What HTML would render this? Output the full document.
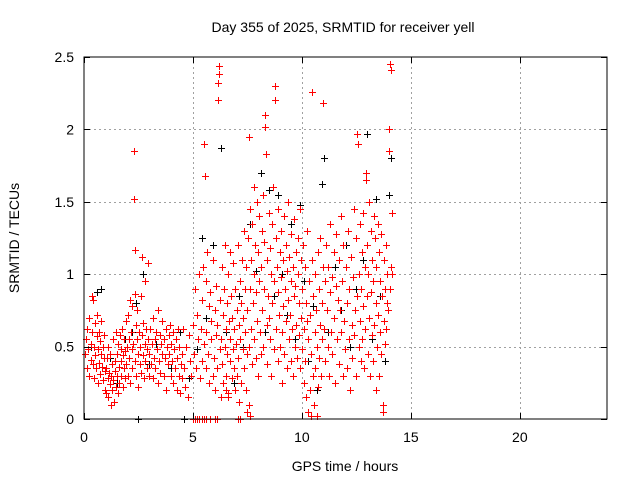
<!DOCTYPE html>
<html><head><meta charset="utf-8"><style>
html,body{margin:0;padding:0;background:#fff;}
svg text{font-family:"Liberation Sans",sans-serif;fill:#000;}
</style></head><body>
<svg id="chart" width="640" height="480" viewBox="0 0 640 480" xmlns="http://www.w3.org/2000/svg">
<rect width="640" height="480" fill="#fff"/>
<g id="grid"></g>
<g id="black"></g>
<g id="red"></g>
<rect x="84" y="57" width="523" height="362" fill="none" stroke="#000" stroke-width="1"/>
<g id="ticks"></g>
<text x="343" y="32" font-size="14" text-anchor="middle">Day 355 of 2025, SRMTID for receiver yell</text>
<text x="345" y="471" font-size="14" text-anchor="middle">GPS time / hours</text>
<text transform="translate(19,238) rotate(-90)" font-size="14" text-anchor="middle">SRMTID / TECUs</text>
</svg>
<script>
const xTicks=[0,5,10,15,20];
const yTicks=[0,0.5,1,1.5,2,2.5];
const yTickLabels=["0","0.5","1","1.5","2","2.5"];
const blackPoints=[[0.3,0.5],[0.6,0.88],[0.8,0.9],[1.2,0.42],[1.5,0.25],[1.9,0.55],[2.2,0.6],[2.4,0.8],[2.5,0],[2.7,1.0],[3.0,0.38],[3.3,0.52],[3.6,0.45],[4.0,0.35],[4.4,0.6],[4.6,0],[4.8,0.28],[5.2,0.48],[5.4,1.25],[5.6,0.7],[5.9,1.2],[6.1,0.35],[6.3,1.87],[6.5,0.6],[6.9,0.25],[7.1,0.85],[7.3,0.5],[7.6,1.35],[7.9,1.02],[8.1,1.7],[8.3,0.6],[8.5,1.58],[8.7,0.85],[8.9,1.55],[9.1,1.0],[9.3,0.72],[9.5,1.35],[9.7,0.55],[9.9,1.48],[10.1,0.95],[10.3,0.4],[10.5,0.78],[10.7,0.2],[10.9,1.62],[11.0,1.8],[11.2,0.6],[11.5,1.05],[11.8,0.75],[12.0,1.2],[12.2,0.5],[12.5,0.9],[12.8,1.1],[13.0,1.97],[13.2,0.55],[13.4,1.52],[13.6,0.85],[13.8,0.4],[14.0,1.55],[14.1,1.8]];
const redPoints=[[0.05,0.45],[0.1,0.55],[0.12,0.35],[0.15,0.62],[0.2,0.48],[0.22,0.3],[0.25,0.7],[0.3,0.52],[0.32,0.41],[0.35,0.85],[0.38,0.6],[0.4,0.38],[0.42,0.82],[0.45,0.5],[0.48,0.28],[0.5,0.66],[0.52,0.44],[0.55,0.35],[0.58,0.57],[0.6,0.72],[0.62,0.25],[0.65,0.48],[0.68,0.39],[0.7,0.6],[0.72,0.31],[0.75,0.54],[0.78,0.45],[0.8,0.68],[0.82,0.36],[0.85,0.5],[0.88,0.27],[0.9,0.42],[0.93,0.58],[0.95,0.33],[0.98,0.2],
[1.0,0.35],[1.03,0.18],[1.05,0.42],[1.08,0.28],[1.1,0.5],[1.12,0.15],[1.15,0.32],[1.18,0.24],[1.2,0.45],[1.22,0.1],[1.25,0.3],[1.28,0.38],[1.3,0.2],[1.32,0.55],[1.35,0.27],[1.38,0.12],[1.4,0.4],[1.42,0.33],[1.45,0.22],[1.48,0.6],[1.5,0.3],[1.52,0.45],[1.55,0.18],[1.58,0.52],[1.6,0.36],[1.62,0.25],[1.65,0.58],[1.68,0.4],[1.7,0.3],[1.72,0.48],[1.75,0.62],[1.78,0.22],[1.8,0.44],[1.82,0.35],[1.85,0.55],[1.88,0.28],[1.9,0.47],[1.92,0.68],[1.95,0.38],[1.98,0.5],
[2.0,0.72],[2.02,0.3],[2.05,0.55],[2.08,0.42],[2.1,0.82],[2.12,0.25],[2.15,0.6],[2.18,0.48],[2.2,0.35],[2.22,0.78],[2.25,0.52],[2.28,1.85],[2.3,1.52],[2.32,1.17],[2.33,0.86],[2.35,0.4],[2.38,0.65],[2.4,0.3],[2.42,0.55],[2.45,0.75],[2.48,0.45],[2.5,0.22],[2.52,0.6],[2.55,0.38],[2.58,0.5],[2.6,0.85],[2.62,0.32],[2.65,0.58],[2.68,1.12],[2.7,0.44],[2.72,0.66],[2.75,0.28],[2.78,0.52],[2.8,0.4],[2.82,0.95],[2.85,0.62],[2.88,0.35],[2.9,0.48],[2.92,1.08],[2.95,0.55],[2.98,0.3],
[3.0,0.45],[3.05,0.62],[3.08,0.38],[3.1,0.52],[3.15,0.28],[3.18,0.7],[3.2,0.42],[3.25,0.55],[3.28,0.35],[3.3,0.6],[3.35,0.48],[3.38,0.25],[3.4,0.75],[3.45,0.4],[3.48,0.58],[3.5,0.32],[3.55,0.52],[3.58,0.45],[3.6,0.68],[3.65,0.3],[3.68,0.55],[3.7,0.42],[3.75,0.62],[3.78,0.2],[3.8,0.5],[3.85,0.38],[3.88,0.58],[3.9,0.45],[3.95,0.65],[3.98,0.3],[4.0,0.52],[4.05,0.4],[4.08,0.6],[4.1,0.25],[4.15,0.48],[4.18,0.35],[4.2,0.55],[4.25,0.2],[4.28,0.42],[4.3,0.62],[4.35,0.3],[4.38,0.5],[4.4,0.18],[4.45,0.38],[4.48,0.28],[4.5,0.45],[4.55,0.62],[4.6,0.35],[4.65,0.22],[4.7,0.5],[4.75,0.15],[4.8,0.58],[4.85,0.4],[4.9,0.3],
[5.0,0],[5.1,0],[5.2,0],[5.3,0],[5.4,0],[5.5,0],[5.6,0],[5.8,0],[6.0,0],[6.1,0],[7.05,0],[7.15,0],[7.5,0.05],[7.55,0.1],[7.6,0.02],[6.5,0.2],[6.6,0.15],
[5.0,0.65],[5.05,0.45],[5.1,0.9],[5.15,0.35],[5.2,0.72],[5.25,0.55],[5.3,1.0],[5.32,0.28],[5.35,0.62],[5.4,0.82],[5.42,0.4],[5.45,1.05],[5.5,0.52],[5.52,1.9],[5.55,1.68],[5.58,0.35],[5.6,0.95],[5.62,0.6],[5.65,1.15],[5.7,0.45],[5.72,0.78],[5.75,0.25],[5.8,0.88],[5.82,0.55],[5.85,0.68],[5.9,0.3],[5.92,1.1],[5.95,0.42],[6.0,0.75],[6.02,0.2],[6.05,0.58],[6.08,0.92],[6.1,0.35],[6.12,0.65],[6.15,2.2],[6.17,2.32],[6.18,2.38],[6.2,2.44],[6.22,0.48],[6.25,0.82],[6.28,0.15],[6.3,0.55],[6.32,1.05],[6.35,0.38],[6.38,0.72],[6.4,0.25],[6.42,0.9],[6.45,0.5],[6.48,1.2],[6.5,0.62],[6.52,0.3],[6.55,0.8],[6.58,0.45],[6.6,1.0],[6.62,0.18],[6.65,0.68],[6.68,0.4],[6.7,1.15],[6.72,0.55],[6.75,0.85],[6.78,0.28],[6.8,0.7],[6.82,0.48],[6.85,1.08],[6.88,0.35],[6.9,0.62],[6.92,0.2],[6.95,0.9],[6.98,0.52],[7.0,0.75],[7.02,0.3],[7.05,1.2],[7.08,0.42],[7.1,0.65],[7.12,0.12],[7.15,0.95],[7.18,0.55],[7.2,0.8],[7.22,0.25],[7.25,1.1],[7.28,0.48],[7.3,0.7],[7.32,0.35],[7.35,1.3],[7.38,0.6],[7.4,0.9],[7.42,0.2],[7.45,1.05],[7.48,0.45],
[7.5,0.75],[7.52,1.25],[7.55,0.5],[7.58,1.95],[7.6,0.9],[7.62,1.45],[7.65,0.62],[7.68,1.1],[7.7,0.38],[7.72,1.35],[7.75,0.8],[7.78,1.6],[7.8,0.55],[7.82,1.0],[7.85,1.2],[7.88,0.42],[7.9,0.88],[7.92,1.5],[7.95,0.68],[7.98,1.15],[8.0,0.3],[8.02,0.95],[8.05,1.4],[8.08,0.6],[8.1,1.05],[8.12,0.45],[8.15,1.3],[8.18,0.75],[8.2,1.55],[8.22,0.5],[8.25,0.9],[8.28,1.22],[8.3,2.1],[8.32,2.02],[8.35,1.83],[8.38,0.65],[8.4,1.1],[8.42,0.38],[8.45,0.85],[8.48,1.42],[8.5,0.7],[8.52,1.18],[8.55,0.55],[8.58,1.0],[8.6,0.3],[8.62,1.35],[8.65,0.8],[8.68,1.6],[8.7,0.48],[8.72,0.95],[8.75,2.3],[8.78,2.2],[8.8,1.25],[8.82,0.62],[8.85,1.05],[8.88,0.4],[8.9,0.88],[8.92,1.45],[8.95,0.72],[8.98,1.15],[9.0,0.5],[9.02,0.98],[9.05,1.3],[9.08,0.6],[9.1,0.25],[9.12,1.1],[9.15,0.78],[9.18,1.4],[9.2,0.45],[9.22,0.9],[9.25,1.2],[9.28,0.68],[9.3,1.02],[9.32,0.35],[9.35,0.82],[9.38,1.5],[9.4,0.55],[9.42,1.12],[9.45,0.72],[9.48,0.4],[9.5,0.95],[9.52,1.28],[9.55,0.62],[9.58,1.05],[9.6,0.3],[9.62,0.85],[9.65,1.38],[9.68,0.5],[9.7,0.92],[9.72,1.15],[9.75,0.65],[9.78,0.42],[9.8,1.0],[9.82,1.25],[9.85,0.58],[9.88,0.8],[9.9,1.45],[9.92,0.35],[9.95,1.1],[9.98,0.7],
[10.0,0.9],[10.02,0.48],[10.05,1.2],[10.08,0.62],[10.1,0.25],[10.12,1.05],[10.15,0.4],[10.18,0.8],[10.2,0.15],[10.22,0.68],[10.25,1.3],[10.28,0.05],[10.3,0.55],[10.32,0.95],[10.35,0.2],[10.38,0.72],[10.4,0.02],[10.42,0.45],[10.45,1.1],[10.48,2.26],[10.5,0.3],[10.52,0.85],[10.55,0.1],[10.58,0.6],[10.6,1.0],[10.62,0.35],[10.65,0.75],[10.68,0.02],[10.7,0.5],[10.72,1.15],[10.75,0.22],[10.78,0.9],[10.8,0.42],[10.82,0.65],[10.85,1.25],[10.88,0.3],[10.9,0.8],[10.92,0.55],[10.95,1.05],[10.98,2.18],
[11.0,0.62],[11.05,0.95],[11.08,0.4],[11.1,1.2],[11.15,0.75],[11.18,0.5],[11.2,1.05],[11.25,0.3],[11.28,0.88],[11.3,1.35],[11.35,0.6],[11.38,0.98],[11.4,0.45],[11.45,1.15],[11.48,0.7],[11.5,0.25],[11.55,0.92],[11.58,1.28],[11.6,0.55],[11.65,0.82],[11.68,1.1],[11.7,0.38],[11.75,0.75],[11.78,1.4],[11.8,0.6],[11.85,0.95],[11.88,0.3],[11.9,1.2],[11.95,0.68],[11.98,0.48],[12.0,1.05],[12.05,0.35],[12.08,0.8],[12.1,1.3],[12.15,0.55],[12.18,0.9],[12.2,0.2],[12.25,1.12],[12.28,0.65],[12.3,0.42],[12.35,0.98],[12.38,1.45],[12.4,0.58],[12.45,0.75],[12.48,0.3],[12.5,1.25],[12.52,0.85],[12.55,1.97],[12.58,1.9],[12.6,0.5],[12.62,1.0],[12.65,0.68],[12.68,1.35],[12.7,0.4],[12.72,0.9],[12.75,1.15],[12.78,0.55],[12.8,0.78],[12.82,1.42],[12.85,0.35],[12.88,1.05],[12.9,0.62],[12.92,1.7],[12.95,1.65],[12.98,0.85],[13.0,1.2],[13.02,0.45],[13.05,1.0],[13.08,0.7],[13.1,1.5],[13.12,0.3],[13.15,0.88],[13.18,1.3],[13.2,0.58],[13.22,1.1],[13.25,0.4],[13.28,0.95],[13.3,1.4],[13.32,0.65],[13.35,1.25],[13.38,0.2],[13.4,0.8],[13.42,1.05],[13.45,0.5],[13.48,1.35],[13.5,0.72],[13.52,0.3],[13.55,1.15],[13.58,0.6],[13.6,0.95],[13.62,1.28],[13.65,0.45],[13.68,0.85],[13.7,0.1],[13.72,0.05],[13.75,0.68],[13.78,1.1],[13.8,0.52],[13.82,0.9],[13.85,1.2],[13.88,0.62],[13.9,0.8],[13.92,1.0],[13.95,0.75],[13.98,1.85],[14.0,2.0],[14.02,0.9],[14.05,2.45],[14.07,2.41],[14.1,1.05],[14.12,1.42],[14.15,1.0]];

const NS="http://www.w3.org/2000/svg";
const L=84,R=607,T=57,B=419;
function xs(v){return L+(v-0)/(24-0)*(R-L);}
function ys(v){return B-(v-0)/(2.5-0)*(B-T);}
function mk(tag,attrs){const e=document.createElementNS(NS,tag);for(const k in attrs)e.setAttribute(k,attrs[k]);return e;}
const grid=document.getElementById('grid'),ticks=document.getElementById('ticks');
xTicks.forEach(t=>{
  const x=Math.round(xs(t))+0.5;
  if(t>0){const g=mk('line',{x1:x,y1:T,x2:x,y2:B,stroke:'#a0a0a0','stroke-dasharray':'2,3'});
  
  grid.appendChild(g);}
  const tk=mk('path',{d:`M${x},${B}v-6M${x},${T}v6`,stroke:'#000'});
  
  ticks.appendChild(tk);
  const lb=mk('text',{x:xs(t),y:B+23,'font-size':14,'text-anchor':'middle'});lb.textContent=String(t);
  
  ticks.appendChild(lb);
});
yTicks.forEach((t,i)=>{
  const y=Math.round(ys(t))+0.5;
  if(t>0&&t<2.5){const g=mk('line',{x1:L,y1:y,x2:R,y2:y,stroke:'#a0a0a0','stroke-dasharray':'2,3'});
  
  grid.appendChild(g);}
  const tk=mk('path',{d:`M${L},${y}h6M${R},${y}h-6`,stroke:'#000'});
  
  ticks.appendChild(tk);
  const lb=mk('text',{x:L-10,y:ys(t)+5,'font-size':14,'text-anchor':'end'});lb.textContent=yTickLabels[i];
  
  ticks.appendChild(lb);
});
function plot(pts,gid,color){
  const g=document.getElementById(gid);
  pts.forEach(p=>{
    const x=Math.round(xs(p[0]))+0.5,y=Math.round(ys(p[1]))+0.5;
    const m=mk('path',{d:`M${x-3.5},${y}h7M${x},${y-3.5}v7`,stroke:color,'stroke-width':1});
    
    
    g.appendChild(m);
  });
}
plot(blackPoints,'black','#000');
plot(redPoints,'red','#f00');
</script>
</body></html>
